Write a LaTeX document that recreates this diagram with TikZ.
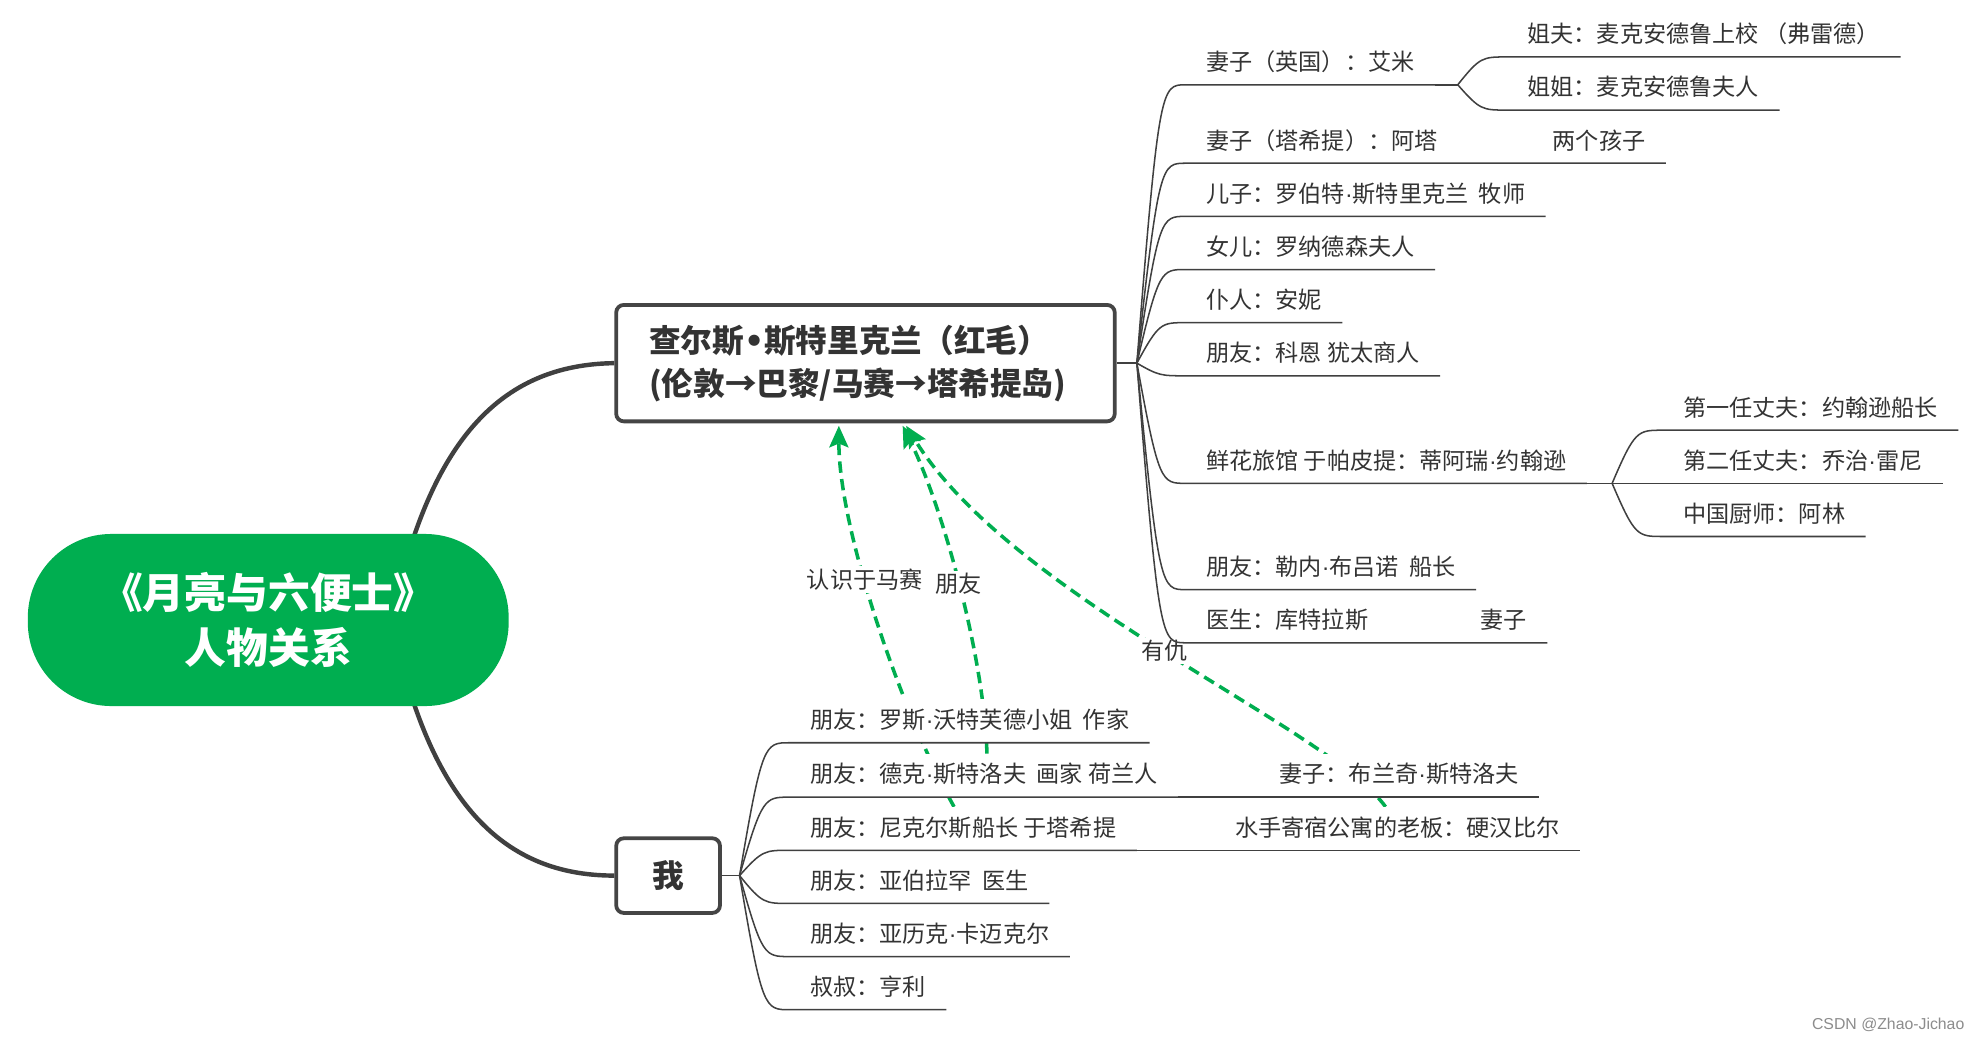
\documentclass[tikz,border=0pt]{standalone}
\usepackage{fontspec}
\setmainfont{Liberation Sans}
\newfontfamily\cjk{Noto Sans CJK SC}
\newfontfamily\latinf{Liberation Sans}
\newfontfamily\djv{DejaVu Sans}
\newcommand\xdot{{\latinf ·}}
\newcommand\xbul{{\djv\bfseries •}}
\usetikzlibrary{arrows.meta,calc}
\pgfdeclarelayer{back}
\pgfdeclarelayer{bg}
\pgfsetlayers{back,bg,main}
\definecolor{xgreen}{HTML}{00AE50}
\definecolor{xline}{HTML}{404040}
\definecolor{xbox}{HTML}{454545}
\definecolor{xtext}{HTML}{333333}
\tikzset{
  leaf/.style={anchor=south west, inner xsep=16pt, inner ysep=0pt, text height=23pt, text depth=11pt,
    fill=white, text=xtext, font={\cjk\fontsize{18.3pt}{22pt}\selectfont}},
  branch/.style={draw=xline, line width=1.2pt},
  fan/.style={to path={let \p1=(\tikztostart), \p2=(\tikztotarget) in
    .. controls ({\x1+0.45*(\x2-\x1)},\y2) and ({\x1+0.5*(\x2-\x1)},\y2) .. (\tikztotarget)}},
  rel/.style={draw=xgreen, line width=2.8pt, dash pattern=on 9pt off 5pt,
    -{Stealth[length=17pt,width=15pt,inset=3pt]}},
  rlabel/.style={fill=white, inner sep=2pt, text=xtext, font={\cjk\fontsize{18.3pt}{22pt}\selectfont}},
  topic/.style={draw=xbox, line width=3pt, rounded corners=6pt, fill=white, text=xtext,
    font={\cjk\bfseries\fontsize{25pt}{34pt}\selectfont}},
  rootnode/.style={fill=xgreen, rounded corners=66pt, minimum width=380pt, minimum height=136pt,
    inner sep=0pt, align=center, text=white, font={\cjk\bfseries\fontsize{33pt}{44pt}\selectfont}},
  trunk/.style={draw=xline, line width=3.5pt},
}
\begin{document}
\begin{tikzpicture}[x=1pt,y=-1pt]
\begin{pgfonlayer}{back}
\fill[white] (0,0) rectangle (1568,822);
\end{pgfonlayer}
\useasboundingbox (0,0) rectangle (1568,822);

% main topics
\node[rootnode] (root) at (212,490) {《月亮与六便士》\\人物关系};
\node[topic, minimum width=394pt, minimum height=92pt, inner xsep=0pt, text width=342pt, align=left] (ch) at (684,287)
  {查尔斯\xbul 斯特里克兰（红毛）\\(伦敦→巴黎/马赛→塔希提岛)};
\node[topic, minimum width=82pt, minimum height=59pt] (me) at (528,692) {我};

% children of Charles
\node[leaf] (c1) at (937,67) {妻子（英国）：艾米};
\node[leaf] (c2) at (937,129) {\makebox[274pt][l]{妻子（塔希提）：阿塔}两个孩子};
\node[leaf] (c3) at (937,171) {儿子：罗伯特\xdot 斯特里克兰\ \ 牧师};
\node[leaf] (c4) at (937,213) {女儿：罗纳德森夫人};
\node[leaf] (c5) at (937,255) {仆人：安妮};
\node[leaf] (c6) at (937,297) {朋友：科恩 犹太商人};
\node[leaf] (c7) at (937,382) {鲜花旅馆 于帕皮提：蒂阿瑞\xdot 约翰逊};
\node[leaf] (c8) at (937,466) {朋友：勒内\xdot 布吕诺\ \ 船长};
\node[leaf] (c9) at (937,508) {\makebox[217pt][l]{医生：库特拉斯}妻子};

\node[leaf] (s1) at (1191,45) {姐夫：麦克安德鲁上校 （弗雷德）};
\node[leaf] (s2) at (1191,87) {姐姐：麦克安德鲁夫人};
\node[leaf] (t1) at (1314,340) {第一任丈夫：约翰逊船长};
\node[leaf] (t2) at (1314,382) {第二任丈夫：乔治\xdot 雷尼};
\node[leaf] (t3) at (1314,424) {中国厨师：阿林};

% children of me
\node[leaf] (m1) at (624,587) {朋友：罗斯\xdot 沃特芙德小姐\ \ 作家};
\node[leaf] (m2) at (624,630) {朋友：德克\xdot 斯特洛夫\ \ 画家 荷兰人};
\node[leaf] (m3) at (624,672) {朋友：尼克尔斯船长 于塔希提};
\node[leaf] (m4) at (624,714) {朋友：亚伯拉罕\ \ 医生};
\node[leaf] (m5) at (624,756) {朋友：亚历克\xdot 卡迈克尔};
\node[leaf] (m6) at (624,798) {叔叔：亨利};
\node[leaf] (b1) at (995,630) {妻子：布兰奇\xdot 斯特洛夫};
\node[leaf] (b2) at (960,672) {水手寄宿公寓的老板：硬汉比尔};

\node[text=black!45, font={\fontsize{12.5pt}{14pt}\selectfont}, anchor=east] (wm) at (1556,810) {CSDN @Zhao-Jichao};

% trunks
\begin{pgfonlayer}{bg}
\draw[trunk] ($(root.center)+(110,-50)$) .. controls (355,330) and (410,288) .. (ch.west);
\draw[trunk] ($(root.center)+(110,50)$) .. controls (355,650) and (410,692) .. (me.west);

% relationships
\coordinate (e1) at ($(ch.south west)!0.447!(ch.south east)+(0,2)$);
\coordinate (e2) at ($(ch.south west)!0.574!(ch.south east)+(0,2)$);
\coordinate (e3) at ($(ch.south west)!0.581!(ch.south east)+(0,2)$);
\coordinate (a1) at ($(m3.north west)+(130,0)$);
\coordinate (a2) at ($(m2.north west)+(156,0)$);
\coordinate (a3) at ($(b2.north west)+(135,0)$);
\draw[rel] (a1) .. controls (714,566) and (663,420) .. (e1) node[rlabel, pos=0.6] (l1) {认识于马赛};
\draw[rel] (a2) .. controls (778,520) and (745,400) .. (e2) node[rlabel, pos=0.5] (l2) {朋友};
\draw[rel] (a3) .. controls (1050,575) and (800,472) .. (e3) node[rlabel, pos=0.5] (l3) {有仇};
\end{pgfonlayer}

% branches of Charles
\coordinate (fo1) at ($(ch.east)+(16,0)$);
\draw[branch] (ch.east) -- (fo1);
\foreach \nd in {c1,c2,c3,c4,c5,c6,c7,c8,c9}
  \draw[branch] (fo1) to[fan] (\nd.south west) -- (\nd.south east);
\coordinate (sp1) at ($(c1.south east)+(18,0)$);
\draw[branch] (c1.south east) -- (sp1);
\foreach \nd in {s1,s2}
  \draw[branch] (sp1) to[fan] (\nd.south west) -- (\nd.south east);
\coordinate (sp2) at ($(c7.south east)+(20,0)$);
\draw[branch] (c7.south east) -- (sp2);
\foreach \nd in {t1,t2,t3}
  \draw[branch] (sp2) to[fan] (\nd.south west) -- (\nd.south east);

% branches of me
\coordinate (fo2) at ($(me.east)+(14,0)$);
\draw[branch] (me.east) -- (fo2);
\foreach \nd in {m1,m2,m3,m4,m5,m6}
  \draw[branch] (fo2) to[fan] (\nd.south west) -- (\nd.south east);
\draw[branch] (m2.south east) -- (b1.south west) -- (b1.south east);
\draw[branch] (m3.south east) -- (b2.south west) -- (b2.south east);
\end{tikzpicture}
\end{document}
